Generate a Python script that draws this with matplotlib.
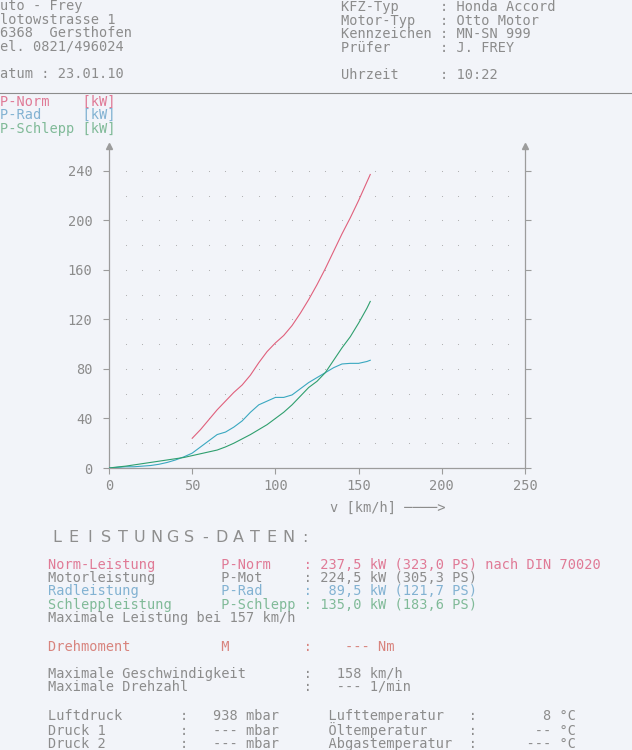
import numpy as np
import matplotlib
matplotlib.use("Agg")
import matplotlib.pyplot as plt

# ---------------- data ----------------
speed_norm = [50, 55, 60, 65, 70, 75, 80, 85, 90, 95, 100, 105, 110, 115, 120,
              125, 130, 135, 140, 145, 150, 155, 157]
p_norm = [24, 31, 39, 47, 54, 61, 67, 75, 85, 94, 101, 107, 115, 125, 136,
          148, 161, 175, 189, 202, 216, 231, 237]

speed_full = [0, 5, 10, 15, 20, 25, 30, 35, 40, 45, 50, 55, 60, 65, 70, 75, 80,
              85, 90, 95, 100, 105, 110, 115, 120, 125, 130, 135, 140, 145, 150,
              155, 157]
p_rad = [0, 0.5, 1, 1, 1.5, 2, 3, 4.5, 6.5, 9, 12, 17, 22, 27, 29, 33, 38,
         45, 51, 54, 57, 57, 59, 64, 69, 73, 77, 81, 84, 84.5, 84.5, 86, 87]
p_schlepp = [0, 0.8, 1.5, 2.5, 3.5, 4.5, 5.5, 6.5, 7.5, 8.5, 10, 11.5, 13, 14.5,
             17, 20, 23.5, 27, 31, 35, 40, 45, 51, 58, 65, 70, 77, 87, 97, 106,
             117, 129, 134.5]

x_ticks = [0, 50, 100, 150, 200, 250]
y_ticks = [0, 40, 80, 120, 160, 200, 240]

# ---------------- styling ----------------
W, H = 632, 750
BG = "#f2f4f9"
GRAY = "#8c8c8c"
AX = "#9c9c9c"
RED_L, CYAN_L, GREEN_L = "#e0607c", "#3aa8c0", "#2f9f6e"
RED_T, CYAN_T, GREEN_T = "#e07a96", "#82b2d2", "#80ba98"
MONO = "DejaVu Sans Mono"
FS = 9.8

fig = plt.figure(figsize=(W / 100, H / 100), dpi=100, facecolor=BG)


def txt(x, y, s, color=GRAY, size=FS, family=MONO, ha="left"):
    fig.text(x / W, 1 - y / H, s, color=color, fontsize=size, family=family,
             ha=ha, va="center")


# header
left_header = ["uto - Frey", "lotowstrasse 1", "6368  Gersthofen",
               "el. 0821/496024"]
for i, s in enumerate(left_header):
    txt(0, 6 + i * 13.5, s)
txt(0, 74, "atum : 23.01.10")

right_header = [("KFZ-Typ", "Honda Accord"), ("Motor-Typ", "Otto Motor"),
                ("Kennzeichen", "MN-SN 999"), ("Prüfer", "J. FREY")]
for i, (k, v) in enumerate(right_header):
    txt(341, 7 + i * 13.5, f"{k:12}: {v}")
txt(341, 75, f"{'Uhrzeit':12}: 10:22")

fig.add_artist(plt.Line2D([0, 1], [1 - 93 / H, 1 - 93 / H],
                          transform=fig.transFigure, color="#8c8c8c", lw=0.8))

txt(0, 102, f"{'P-Norm':10}[kW]", RED_T)
txt(0, 115, f"{'P-Rad':10}[kW]", CYAN_T)
txt(0, 129, f"{'P-Schlepp':10}[kW]", GREEN_T)

# ---------------- chart ----------------
x0, x1 = 109, 525
y0, ytop = 468, 146
ax = fig.add_axes([x0 / W, 1 - y0 / H, (x1 - x0) / W, (y0 - ytop) / H])
ax.set_facecolor("none")
ax.set_xlim(0, 250)
ax.set_ylim(0, 260)

gx, gy = np.meshgrid(np.arange(10, 250, 10), np.arange(20, 260, 20))
ax.scatter(gx.ravel(), gy.ravel(), s=0.6, color="#a8a8a8", lw=0, zorder=1)

ax.plot(speed_norm, p_norm, color=RED_L, lw=0.8, zorder=3)
ax.plot(speed_full, p_rad, color=CYAN_L, lw=0.8, zorder=3)
ax.plot(speed_full, p_schlepp, color=GREEN_L, lw=0.8, zorder=3)

for side in ["left", "right", "bottom"]:
    ax.spines[side].set_color(AX)
    ax.spines[side].set_linewidth(0.9)
ax.spines["top"].set_visible(False)

ax.set_xticks(x_ticks)
ax.set_xticklabels([str(v) for v in x_ticks])
ax.set_yticks(y_ticks)
ax.set_yticklabels([str(v) for v in y_ticks])
ax.tick_params(axis="both", direction="out", length=4, width=0.8, color=AX,
               labelcolor=GRAY, labelsize=FS)
ax.tick_params(axis="y", right=True, labelright=False, pad=8)
ax.tick_params(axis="x", pad=4)
for lab in ax.get_xticklabels() + ax.get_yticklabels():
    lab.set_family(MONO)

ax.plot([0, 1], [1, 1], transform=ax.transAxes, ls="none", marker="^",
        ms=5, color=AX, clip_on=False)

txt(330, 508, "v [km/h] \u2500\u2500\u2500\u2500>")

# ---------------- lower block ----------------
title = "LEISTUNGS-DATEN:"
for i, ch in enumerate(title):
    txt(57 + i * 16.5, 537, ch, "#8e8e8e", size=11.5, family="DejaVu Sans",
        ha="center")

rows = [
    (f"{'Norm-Leistung':21}{'P-Norm':10}: 237,5 kW (323,0 PS) nach DIN 70020", RED_T, 565),
    (f"{'Motorleistung':21}{'P-Mot':10}: 224,5 kW (305,3 PS)", GRAY, 578),
    (f"{'Radleistung':21}{'P-Rad':10}:  89,5 kW (121,7 PS)", CYAN_T, 591),
    (f"{'Schleppleistung':21}{'P-Schlepp':10}: 135,0 kW (183,6 PS)", GREEN_T, 605),
    ("Maximale Leistung bei 157 km/h", GRAY, 618),
    (f"{'Drehmoment':21}{'M':10}:    --- Nm", "#d8847e", 647),
    (f"{'Maximale Geschwindigkeit':31}:   158 km/h", GRAY, 674),
    (f"{'Maximale Drehzahl':31}:   --- 1/min", GRAY, 687),
    (f"{'Luftdruck':16}:   938 mbar      {'Lufttemperatur':17}:        8 °C", GRAY, 716),
    (f"{'Druck 1':16}:   --- mbar      {'Öltemperatur':17}:       -- °C", GRAY, 730),
    (f"{'Druck 2':16}:   --- mbar      {'Abgastemperatur':17}:      --- °C", GRAY, 744),
]
for s, c, y in rows:
    txt(48, y, s, c)

fig.savefig("out.png", dpi=100, facecolor=BG)
